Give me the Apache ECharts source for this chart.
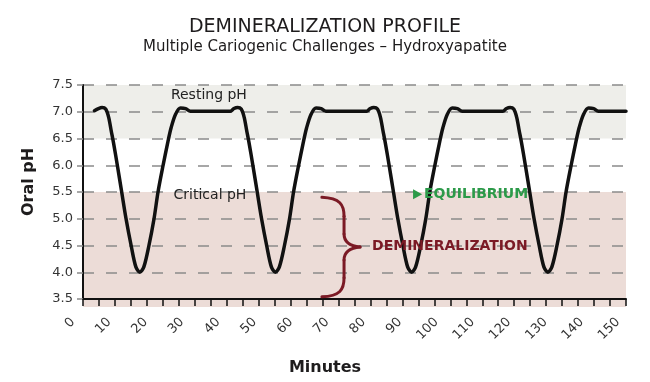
<!DOCTYPE html>
<html><head><meta charset="utf-8">
<script src="https://cdn.jsdelivr.net/npm/echarts@6/dist/echarts.min.js"></script>
<style>html,body{margin:0;padding:0;background:#fff}#c{width:650px;height:382px}</style>
</head><body><div id="c"></div>
<script>
// ---- data ----
const titleText = 'DEMINERALIZATION PROFILE';
const subtitleText = 'Multiple Cariogenic Challenges – Hydroxyapatite';
const xName = 'Minutes';
const yName = 'Oral pH';
const minutes = [
  5.9, 7.0, 8.0, 9.0, 9.8, 10.5, 11.2, 12.2, 13.4, 14.6, 16.0, 17.3, 18.4, 19.5, 20.9, 22.3, 23.4, 24.8, 26.0, 27.0, 28.2, 29.6, 31.0, 32.3,
  43.3, 44.3, 45.3, 46.3, 47.1, 47.8, 48.5, 49.5, 50.7, 51.9, 53.3, 54.6, 55.7, 56.8, 58.2, 59.6, 60.7, 62.1, 63.3, 64.3, 65.5, 66.9, 68.3, 69.6,
  80.8, 81.8, 82.8, 83.8, 84.6, 85.3, 86.0, 87.0, 88.2, 89.4, 90.8, 92.1, 93.2, 94.3, 95.7, 97.1, 98.2, 99.6, 100.8, 101.8, 103.0, 104.4, 105.8, 107.1,
  118.3, 119.3, 120.3, 121.3, 122.1, 122.8, 123.5, 124.5, 125.7, 126.9, 128.3, 129.6, 130.7, 131.8, 133.2, 134.6, 135.7, 137.1, 138.3, 139.3, 140.5, 141.9, 143.3, 144.6,
  152.2
];
const ph = [
  7.02, 7.06, 7.08, 7.05, 6.9, 6.65, 6.4, 6.0, 5.5, 5.0, 4.5, 4.1, 4.0, 4.1, 4.5, 5.0, 5.5, 6.0, 6.4, 6.7, 6.95, 7.07, 7.06, 7.01,
  7.01, 7.06, 7.08, 7.05, 6.9, 6.65, 6.4, 6.0, 5.5, 5.0, 4.5, 4.1, 4.0, 4.1, 4.5, 5.0, 5.5, 6.0, 6.4, 6.7, 6.95, 7.07, 7.06, 7.01,
  7.01, 7.06, 7.08, 7.05, 6.9, 6.65, 6.4, 6.0, 5.5, 5.0, 4.5, 4.1, 4.0, 4.1, 4.5, 5.0, 5.5, 6.0, 6.4, 6.7, 6.95, 7.07, 7.06, 7.01,
  7.01, 7.06, 7.08, 7.05, 6.9, 6.65, 6.4, 6.0, 5.5, 5.0, 4.5, 4.1, 4.0, 4.1, 4.5, 5.0, 5.5, 6.0, 6.4, 6.7, 6.95, 7.07, 7.06, 7.01,
  7.01
];
const restingBand = [6.5, 7.5];
const criticalBand = [3.5, 5.5];
const yMin = 3.5, yMax = 7.5, yStep = 0.5;
const xMin = 0, xMax = 152.2, xStep = 10;
const minorTickCount = 34;
const noteResting = 'Resting pH';
const noteCritical = 'Critical pH';
const noteEquilibrium = 'EQUILIBRIUM';
const noteDemin = 'DEMINERALIZATION';

// ---- chart ----
const FONT = 'DejaVu Sans';
const INK = '#1e1c1d';
const chart = echarts.init(document.getElementById('c'), null, {renderer: 'canvas'});
const box = {top: 85, height: 214};
chart.setOption({
  animation: false,
  title: {
    text: titleText, subtext: subtitleText, left: 'center', top: 13, itemGap: 3,
    textStyle: {fontFamily: FONT, fontSize: 19, fontWeight: 'normal', color: INK},
    subtextStyle: {fontFamily: FONT, fontSize: 15, color: INK}
  },
  grid: [
    {left: 83, top: box.top, width: 543, height: box.height},
    {left: 83, top: box.top, width: 543, height: box.height},
    {left: 73, top: box.top, width: 553, height: box.height}
  ],
  xAxis: [
    {gridIndex: 0, type: 'value', min: 0, max: 1, z: 3,
     axisLine: {show: true, onZero: false, lineStyle: {color: '#111', width: 2}},
     axisTick: {show: false}, axisLabel: {show: false}, splitLine: {show: false}},
    {gridIndex: 1, type: 'value', min: 0, max: minorTickCount, interval: 1, z: 3,
     axisLine: {show: false, onZero: false},
     axisTick: {show: true, length: 7, lineStyle: {color: '#111', width: 1.5}},
     axisLabel: {show: false}, splitLine: {show: false}},
    {gridIndex: 2, type: 'value', min: xMin, max: xMax, interval: xStep,
     axisLine: {show: false, onZero: false}, axisTick: {show: false}, splitLine: {show: false},
     axisLabel: {rotate: 45, margin: 21, fontFamily: FONT, fontSize: 13, color: '#333',
       showMaxLabel: false, formatter: v => (v % 10 === 0 ? String(v) : '')}}
  ],
  yAxis: [
    {gridIndex: 0, type: 'value', min: yMin, max: yMax, interval: yStep, z: 3,
     axisLine: {show: true, onZero: false, lineStyle: {color: '#111', width: 2}},
     axisTick: {show: true, length: 6, lineStyle: {color: '#8a8a8a', width: 1.5}},
     axisLabel: {margin: 10, fontFamily: FONT, fontSize: 13, color: '#333', formatter: v => v.toFixed(1)},
     splitLine: {show: true, lineStyle: {color: '#8a8a8a', width: 1.5, type: [11, 12]}}},
    {gridIndex: 1, type: 'value', show: false, min: 0, max: 1},
    {gridIndex: 2, type: 'value', show: false, min: yMin, max: yMax}
  ],
  series: [
    {type: 'line', xAxisIndex: 0, yAxisIndex: 0, data: [], silent: true,
     markArea: {silent: true, data: [
       [{xAxis: 0, yAxis: restingBand[0], itemStyle: {color: '#eeeeea'}}, {xAxis: 1, yAxis: restingBand[1]}],
       [{xAxis: 0, yAxis: criticalBand[0], itemStyle: {color: '#ecdcd7'}}, {xAxis: 1, yAxis: criticalBand[1]}]
     ]}},
    {type: 'line', xAxisIndex: 2, yAxisIndex: 2, z: 5, clip: false,
     data: minutes.map((m, i) => [m, ph[i]]),
     showSymbol: false, smooth: 0.3,
     lineStyle: {color: '#111', width: 3.5, join: 'round', cap: 'round'}}
  ]
});

// ---- annotations positioned through the axes ----
const P = (x, y) => chart.convertToPixel({gridIndex: 2}, [x, y]);
const g0a = chart.convertToPixel({gridIndex: 0}, [0, yMin]);
const g0b = chart.convertToPixel({gridIndex: 0}, [1, yMin]);
const rest = P(37.4, 7.31), crit = P(37.7, 5.44);
const eqA = P(93.6, 5.46), eqB = P(96.1, 5.46), eqT = P(96.6, 5.46);
const dm = P(82.3, 4.48);
const bTop = P(68.5, 5.4), bBot = P(68.5, 3.54), bMid = P(74.6, 4.47), bTip = P(79.0, 4.47);
const bx = bTop[0], mx = bMid[0], tx = bTip[0], ty = bTip[1], t = bTop[1], b = bBot[1];
const RED = '#7b1a25', GREEN = '#2c9a49';
const braceStyle = {fill: null, stroke: RED, lineWidth: 3, lineCap: 'round'};
const curve = (x1, y1, c1x, c1y, c2x, c2y, x2, y2) =>
  ({type: 'bezierCurve', z: 10, shape: {x1, y1, cpx1: c1x, cpy1: c1y, cpx2: c2x, cpy2: c2y, x2, y2}, style: braceStyle});
const seg = (x1, y1, x2, y2) => ({type: 'line', z: 10, shape: {x1, y1, x2, y2}, style: braceStyle});
chart.setOption({
  graphic: [
    {type: 'rect', z: 1, shape: {x: g0a[0], y: g0a[1], width: g0b[0] - g0a[0], height: 8}, style: {fill: '#ecdcd7'}},
    {type: 'text', z: 10, x: rest[0], y: rest[1], style: {text: noteResting, font: `14px "${FONT}"`, fill: '#222', align: 'center', verticalAlign: 'middle'}},
    {type: 'text', z: 10, x: crit[0], y: crit[1], style: {text: noteCritical, font: `14px "${FONT}"`, fill: '#222', align: 'center', verticalAlign: 'middle'}},
    {type: 'polygon', z: 10, shape: {points: [[eqA[0], eqA[1] - 5], [eqB[0], eqA[1]], [eqA[0], eqA[1] + 5]]}, style: {fill: GREEN}},
    {type: 'text', z: 10, x: eqT[0], y: eqT[1], style: {text: noteEquilibrium, font: `bold 14px "${FONT}"`, fill: GREEN, align: 'left', verticalAlign: 'middle'}},
    {type: 'text', z: 10, x: dm[0], y: dm[1], style: {text: noteDemin, font: `bold 14px "${FONT}"`, fill: RED, align: 'left', verticalAlign: 'middle'}},
    curve(bx, t, mx - 4, t + 1, mx, t + 7, mx, t + 19),
    seg(mx, t + 19, mx, ty - 13),
    curve(mx, ty - 13, mx, ty - 5, mx + 6, ty - 1, tx, ty),
    curve(tx, ty, mx + 6, ty + 1, mx, ty + 5, mx, ty + 13),
    seg(mx, ty + 13, mx, b - 19),
    curve(mx, b - 19, mx, b - 7, mx - 4, b - 1, bx, b),
    {type: 'text', z: 10, x: 29, y: 182, rotation: Math.PI / 2, style: {text: yName, font: `bold 16px "${FONT}"`, fill: INK, align: 'center', verticalAlign: 'middle'}},
    {type: 'text', z: 10, x: 325, y: 368, style: {text: xName, font: `bold 16px "${FONT}"`, fill: INK, align: 'center', verticalAlign: 'middle'}}
  ]
});
</script>
</body></html>
